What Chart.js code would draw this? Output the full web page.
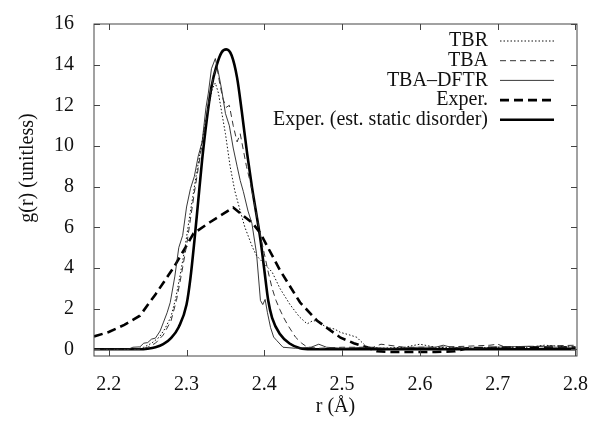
<!DOCTYPE html>
<html>
<head>
<meta charset="utf-8">
<script src="https://cdn.jsdelivr.net/npm/chart.js@4.4.0/dist/chart.umd.min.js"></script>
<style>
  html, body { margin: 0; padding: 0; background: #fff; }
</style>
</head>
<body>
<canvas id="c" width="608" height="421"></canvas>
<script>
// g(r) peak: simulated (TBR / TBA / TBA-DFTR) vs experiment

const xTicks = [2.2, 2.3, 2.4, 2.5, 2.6, 2.7, 2.8];
const yTicks = [0, 2, 4, 6, 8, 10, 12, 14, 16];

// TBR (dotted)
const tbrR = [2.181, 2.235, 2.245, 2.255, 2.265, 2.272, 2.28, 2.286, 2.292, 2.298, 2.303, 2.308, 2.313, 2.318, 2.323, 2.328, 2.333, 2.337, 2.341, 2.345, 2.35, 2.356, 2.362, 2.369, 2.375, 2.38, 2.385, 2.39, 2.40, 2.41, 2.42, 2.433, 2.445, 2.455, 2.462, 2.468, 2.475, 2.481, 2.49, 2.498, 2.51, 2.519, 2.523, 2.532, 2.55, 2.58, 2.60, 2.62, 2.66, 2.70, 2.74, 2.76, 2.80];
const tbrG = [0, 0, 0.1, 0.3, 0.6, 1.0, 1.6, 2.5, 3.7, 5.0, 6.3, 7.5, 8.7, 9.8, 10.9, 11.9, 12.8, 13.1, 12.6, 11.7, 10.6, 9.0, 7.8, 6.8, 6.0, 5.5, 5.0, 4.6, 4.2, 3.8, 3.0, 2.2, 1.6, 1.25, 1.4, 1.4, 1.2, 1.07, 1.0, 0.83, 0.7, 0.59, 0.43, 0.11, 0.05, 0.1, 0.25, 0.1, 0.05, 0.1, 0.1, 0.2, 0.1];

// TBA (thin dashed)
const tbaR = [2.181, 2.24, 2.25, 2.26, 2.27, 2.28, 2.287, 2.293, 2.30, 2.305, 2.31, 2.315, 2.32, 2.325, 2.33, 2.335, 2.339, 2.343, 2.347, 2.351, 2.355, 2.36, 2.365, 2.369, 2.373, 2.377, 2.382, 2.387, 2.392, 2.396, 2.40, 2.405, 2.41, 2.415, 2.42, 2.425, 2.43, 2.435, 2.44, 2.448, 2.455, 2.47, 2.50, 2.54, 2.55, 2.56, 2.58, 2.62, 2.66, 2.69, 2.70, 2.71, 2.75, 2.80];
const tbaG = [0, 0, 0.1, 0.3, 0.7, 1.4, 2.4, 3.6, 5.1, 6.4, 7.7, 8.9, 10.1, 11.3, 12.5, 13.5, 13.9, 13.0, 12.3, 11.9, 12.0, 11.0, 10.2, 10.6, 9.8, 9.0, 8.2, 7.2, 6.2, 5.4, 4.7, 3.8, 3.0, 2.4, 1.95, 1.55, 1.2, 0.9, 0.6, 0.3, 0.11, 0.05, 0.1, 0.1, 0.25, 0.2, 0.1, 0.1, 0.15, 0.2, 0.25, 0.1, 0.15, 0.2];

// TBA-DFTR (thin solid)
const dftrR = [2.181, 2.225, 2.231, 2.24, 2.245, 2.25, 2.255, 2.26, 2.266, 2.27, 2.275, 2.279, 2.285, 2.29, 2.295, 2.30, 2.305, 2.31, 2.315, 2.32, 2.325, 2.328, 2.332, 2.337, 2.341, 2.345, 2.35, 2.355, 2.36, 2.365, 2.369, 2.373, 2.379, 2.384, 2.39, 2.395, 2.398, 2.401, 2.404, 2.408, 2.412, 2.416, 2.424, 2.44, 2.46, 2.47, 2.48, 2.50, 2.53, 2.56, 2.60, 2.62, 2.63, 2.64, 2.67, 2.70, 2.74, 2.77, 2.80];
const dftrG = [0, 0, 0.1, 0.12, 0.3, 0.33, 0.5, 0.55, 0.9, 1.3, 1.8, 2.3, 3.6, 5.0, 5.6, 7.0, 7.9, 8.5, 9.5, 10.2, 11.9, 12.6, 13.8, 14.3, 13.6, 12.8, 11.6, 11.0, 9.9, 9.0, 8.3, 7.76, 6.8, 6.2, 4.7, 2.4, 2.2, 2.45, 1.8, 1.07, 0.6, 0.43, 0.1, 0.05, 0.1, 0.25, 0.1, 0.05, 0.1, 0.05, 0.1, 0.1, 0.2, 0.1, 0.05, 0.1, 0.15, 0.1, 0.1];

// Exper. (thick dashed)
const expR = [2.181, 2.20, 2.22, 2.24, 2.26, 2.283, 2.30, 2.309, 2.33, 2.36, 2.385, 2.395, 2.42, 2.446, 2.468, 2.498, 2.515, 2.532, 2.545, 2.56, 2.62, 2.645, 2.66, 2.70, 2.80];
const expG = [0.63, 0.85, 1.2, 1.65, 2.7, 4.0, 5.1, 5.7, 6.25, 6.97, 6.2, 5.7, 3.9, 2.3, 1.4, 0.57, 0.3, 0.1, -0.1, -0.13, -0.13, -0.1, 0.05, 0.08, 0.08];

// Exper. (est. static disorder) (thick solid)
const statR = [2.181, 2.24, 2.25, 2.26, 2.27, 2.28, 2.29, 2.30, 2.305, 2.31, 2.315, 2.32, 2.326, 2.332, 2.339, 2.345, 2.351, 2.358, 2.365, 2.371, 2.378, 2.384, 2.39, 2.395, 2.40, 2.405, 2.41, 2.42, 2.433, 2.446, 2.46, 2.80];
const statG = [0, 0, 0.03, 0.1, 0.25, 0.55, 1.1, 2.2, 3.5, 5.3, 7.3, 9.3, 11.3, 12.9, 14.0, 14.6, 14.75, 14.45, 13.35, 11.7, 9.6, 8.0, 6.6, 5.4, 3.9, 2.4, 1.55, 0.75, 0.27, 0.05, 0, 0];

const FONT = { family: "'Liberation Serif', 'Times New Roman', serif", size: 20 };
const pts = (rs, gs) => rs.map((r, i) => ({ x: r, y: gs[i] }));

const series = [
    { label: 'TBR', data: pts(tbrR, tbrG), borderColor: '#111', borderWidth: 1, borderDash: [1.5, 2] },
    { label: 'TBA', data: pts(tbaR, tbaG), borderColor: '#333', borderWidth: 1, borderDash: [6, 4] },
    { label: 'TBA\u2013DFTR', data: pts(dftrR, dftrG), borderColor: '#222', borderWidth: 0.9 },
    { label: 'Exper.', data: pts(expR, expG), borderColor: '#000', borderWidth: 2.6, borderDash: [9, 5] },
    { label: 'Exper. (est. static disorder)', data: pts(statR, statG), borderColor: '#000', borderWidth: 2.6, cubicInterpolationMode: 'monotone' }
];

// frame with mirrored inward ticks, keyed legend, rotated y title
const gnuplotLook = {
    id: 'gnuplotLook',
    afterDatasetsDraw(chart) {
        const { ctx, chartArea: a, scales: { x, y } } = chart;
        ctx.save();
        ctx.strokeStyle = '#444';
        ctx.lineWidth = 1;
        ctx.setLineDash([]);
        ctx.strokeRect(a.left, a.top, a.right - a.left, a.bottom - a.top);
        ctx.beginPath();
        xTicks.forEach(v => {
            const px = Math.round(x.getPixelForValue(v)) + 0.5;
            ctx.moveTo(px, a.bottom); ctx.lineTo(px, a.bottom - 6);
            ctx.moveTo(px, a.top); ctx.lineTo(px, a.top + 6);
        });
        yTicks.forEach(v => {
            const py = Math.round(y.getPixelForValue(v)) + 0.5;
            ctx.moveTo(a.left, py); ctx.lineTo(a.left + 6, py);
            ctx.moveTo(a.right, py); ctx.lineTo(a.right - 6, py);
        });
        ctx.stroke();

        // legend
        ctx.font = FONT.size + 'px ' + FONT.family;
        ctx.fillStyle = '#111';
        ctx.textAlign = 'right';
        ctx.textBaseline = 'middle';
        chart.data.datasets.forEach((ds, i) => {
            const yy = a.top + 17 + i * 19.7;
            ctx.fillText(ds.label, a.right - 89, yy);
            ctx.beginPath();
            ctx.strokeStyle = ds.borderColor;
            ctx.lineWidth = ds.borderWidth;
            ctx.setLineDash(ds.borderDash || []);
            ctx.moveTo(a.right - 77, yy);
            ctx.lineTo(a.right - 23, yy);
            ctx.stroke();
        });

        // y axis title (sits a bit above the plot centre in the original)
        ctx.setLineDash([]);
        ctx.translate(28, 168);
        ctx.rotate(-Math.PI / 2);
        ctx.textAlign = 'center';
        ctx.fillText('g(r) (unitless)', 0, 0);
        ctx.restore();
    }
};

new Chart(document.getElementById('c'), {
    type: 'line',
    data: {
        datasets: series.map(s => Object.assign({ pointRadius: 0, tension: 0, fill: false }, s))
    },
    options: {
        responsive: false,
        animation: false,
        devicePixelRatio: 1,
        layout: { padding: { top: 14, right: 31, left: 0, bottom: 0 } },
        plugins: { legend: { display: false }, tooltip: { enabled: false } },
        scales: {
            x: {
                type: 'linear', min: 2.181, max: 2.802,
                afterBuildTicks: s => { s.ticks = xTicks.map(v => ({ value: v })); },
                afterFit: s => { s.height = 65; },
                grid: { display: false }, border: { display: false },
                ticks: { font: FONT, color: '#111', padding: 9, maxRotation: 0, callback: v => v.toFixed(1) },
                title: { display: true, text: 'r (\u00c5)', font: FONT, color: '#111', padding: { top: 0, bottom: 2 } }
            },
            y: {
                type: 'linear', min: -0.33, max: 16,
                afterBuildTicks: s => { s.ticks = yTicks.map(v => ({ value: v })); },
                afterFit: s => { s.width = 94; },
                grid: { display: false }, border: { display: false },
                ticks: { font: FONT, color: '#111', padding: 12, callback: v => String(v) }
            }
        }
    },
    plugins: [gnuplotLook]
});
</script>
</body>
</html>
